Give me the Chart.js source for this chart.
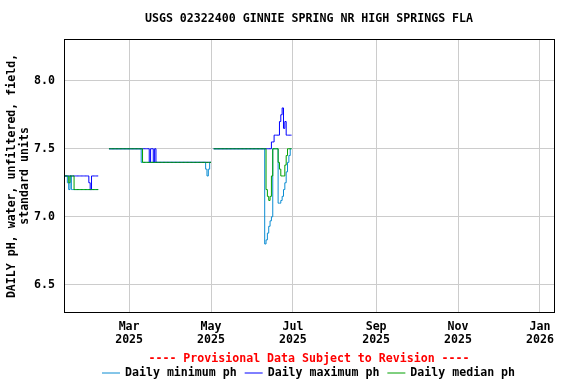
<!DOCTYPE html>
<html><head><meta charset="utf-8">
<script src="https://cdn.jsdelivr.net/npm/chart.js@4"></script>
<style>html,body{margin:0;padding:0;background:#fff;}canvas{display:block;}</style>
</head><body>
<canvas id="c" width="576" height="384"></canvas>
<script>
const titleText = 'USGS 02322400 GINNIE SPRING NR HIGH SPRINGS FLA';
const yTitle = ['DAILY pH, water, unfiltered, field,', 'standard units'];
const footerText = '---- Provisional Data Subject to Revision ----';
const seriesNames = ['Daily minimum ph', 'Daily maximum ph', 'Daily median ph'];
// x values are day numbers counted from 1 Jan 2025 (= 0)
const tickDays = [59, 120, 181, 243, 304, 365];
const tickLabels = [['Mar','2025'],['May','2025'],['Jul','2025'],['Sep','2025'],['Nov','2025'],['Jan','2026']];
const yTicks = [6.5, 7.0, 7.5, 8.0];
const segmentStarts = [11, 44, 122];

const minSeg1 = [7.3,7.3,7.25,7.2,7.3,7.2,7.2,7.2,7.2,7.2,
                 7.2,7.2,7.2,7.2,7.2,7.2,7.2,7.2,7.2,7.2,
                 7.2,7.2,7.2,7.2,7.2,7.2];
const maxSeg1 = [7.3,7.3,7.3,7.3,7.3,7.3,7.3,7.3,7.3,7.3,
                 7.3,7.3,7.3,7.3,7.3,7.3,7.3,7.3,7.25,7.2,
                 7.3,7.3,7.3,7.3,7.3,7.3];
const medSeg1 = [7.3,7.3,7.3,7.25,7.3,7.3,7.3,7.2,7.2,7.2,
                 7.2,7.2,7.2,7.2,7.2,7.2,7.2,7.2,7.2,7.2,
                 7.2,7.2,7.2,7.2,7.2,7.2];

const minSeg2 = [7.5,7.5,7.5,7.5,7.5,7.5,7.5,7.5,7.5,7.5,
                 7.5,7.5,7.5,7.5,7.5,7.5,7.5,7.5,7.5,7.5,
                 7.5,7.5,7.5,7.5,7.4,7.4,7.4,7.4,7.4,7.4,
                 7.4,7.4,7.4,7.4,7.4,7.4,7.4,7.4,7.4,7.4,
                 7.4,7.4,7.4,7.4,7.4,7.4,7.4,7.4,7.4,7.4,
                 7.4,7.4,7.4,7.4,7.4,7.4,7.4,7.4,7.4,7.4,
                 7.4,7.4,7.4,7.4,7.4,7.4,7.4,7.4,7.4,7.4,
                 7.4,7.4,7.35,7.3,7.35,7.4,7.4];
const maxSeg2 = [7.5,7.5,7.5,7.5,7.5,7.5,7.5,7.5,7.5,7.5,
                 7.5,7.5,7.5,7.5,7.5,7.5,7.5,7.5,7.5,7.5,
                 7.5,7.5,7.5,7.5,7.5,7.5,7.5,7.5,7.5,7.5,
                 7.4,7.5,7.5,7.4,7.5,7.4,7.4,7.4,7.4,7.4,
                 7.4,7.4,7.4,7.4,7.4,7.4,7.4,7.4,7.4,7.4,
                 7.4,7.4,7.4,7.4,7.4,7.4,7.4,7.4,7.4,7.4,
                 7.4,7.4,7.4,7.4,7.4,7.4,7.4,7.4,7.4,7.4,
                 7.4,7.4,7.4,7.4,7.4,7.4,7.4];
const medSeg2 = [7.5,7.5,7.5,7.5,7.5,7.5,7.5,7.5,7.5,7.5,
                 7.5,7.5,7.5,7.5,7.5,7.5,7.5,7.5,7.5,7.5,
                 7.5,7.5,7.5,7.5,7.5,7.4,7.4,7.4,7.4,7.4,
                 7.4,7.4,7.4,7.4,7.4,7.4,7.4,7.4,7.4,7.4,
                 7.4,7.4,7.4,7.4,7.4,7.4,7.4,7.4,7.4,7.4,
                 7.4,7.4,7.4,7.4,7.4,7.4,7.4,7.4,7.4,7.4,
                 7.4,7.4,7.4,7.4,7.4,7.4,7.4,7.4,7.4,7.4,
                 7.4,7.4,7.4,7.4,7.4,7.4,7.4];

const minSeg3 = [7.5,7.5,7.5,7.5,7.5,7.5,7.5,7.5,7.5,7.5,
                 7.5,7.5,7.5,7.5,7.5,7.5,7.5,7.5,7.5,7.5,
                 7.5,7.5,7.5,7.5,7.5,7.5,7.5,7.5,7.5,7.5,
                 7.5,7.5,7.5,7.5,7.5,7.5,7.5,7.5,6.8,6.83,
                 6.88,6.93,6.97,7.0,7.5,7.5,7.5,7.5,7.1,7.1,
                 7.12,7.15,7.2,7.25,7.33,7.4,7.45,7.5,7.5];
const maxSeg3 = [7.5,7.5,7.5,7.5,7.5,7.5,7.5,7.5,7.5,7.5,
                 7.5,7.5,7.5,7.5,7.5,7.5,7.5,7.5,7.5,7.5,
                 7.5,7.5,7.5,7.5,7.5,7.5,7.5,7.5,7.5,7.5,
                 7.5,7.5,7.5,7.5,7.5,7.5,7.5,7.5,7.5,7.5,
                 7.5,7.5,7.5,7.55,7.55,7.6,7.6,7.6,7.6,7.7,
                 7.75,7.8,7.65,7.7,7.6,7.6,7.6,7.6,7.6];
const medSeg3 = [7.5,7.5,7.5,7.5,7.5,7.5,7.5,7.5,7.5,7.5,
                 7.5,7.5,7.5,7.5,7.5,7.5,7.5,7.5,7.5,7.5,
                 7.5,7.5,7.5,7.5,7.5,7.5,7.5,7.5,7.5,7.5,
                 7.5,7.5,7.5,7.5,7.5,7.5,7.5,7.5,7.5,7.2,
                 7.15,7.12,7.15,7.3,7.5,7.5,7.5,7.5,7.4,7.35,
                 7.3,7.3,7.3,7.38,7.45,7.5,7.5,7.5,7.5];

function buildPoints(segs) {
  const pts = [];
  segs.forEach((vals, si) => {
    if (si > 0) pts.push({x: segmentStarts[si] - 1, y: null});
    vals.forEach((v, i) => pts.push({x: segmentStarts[si] + i, y: v}));
  });
  return pts;
}

const FONT = {family: "'DejaVu Sans Mono', monospace", size: 11.6, weight: 'bold', lineHeight: 1.12};
const FONTCSS = "bold 11.6px 'DejaVu Sans Mono', monospace";
Chart.defaults.color = '#000';

const decor = {
  id: 'decor',
  afterDatasetsDraw(chart) {
    const {ctx, chartArea: a} = chart;
    const top = Math.round(a.top) - 0.5;
    ctx.save();
    ctx.strokeStyle = '#000';
    ctx.lineWidth = 1;
    ctx.strokeRect(a.left + 0.5, top, a.right - a.left, a.bottom + 0.5 - top);
    ctx.restore();
  },
  afterDraw(chart) {
    const {ctx, chartArea: a} = chart;
    const cx = (a.left + a.right) / 2;
    ctx.save();
    ctx.font = FONTCSS;
    ctx.textBaseline = 'middle';
    ctx.textAlign = 'center';
    ctx.fillStyle = '#ff0000';
    ctx.fillText(footerText, cx, chart.height - 25.5);
    const ly = chart.height - 11.5;
    const lineW = 18, g1 = 5, g2 = 8;
    const dss = chart.data.datasets;
    const widths = dss.map(d => ctx.measureText(d.label).width);
    let total = 0;
    widths.forEach((w, i) => { total += lineW + g1 + w + (i > 0 ? g2 : 0); });
    let x = Math.round(cx - total / 2);
    ctx.textAlign = 'left';
    dss.forEach((ds, i) => {
      ctx.strokeStyle = ds.borderColor;
      ctx.lineWidth = 1;
      ctx.beginPath();
      ctx.moveTo(x, ly + 0.5);
      ctx.lineTo(x + lineW, ly + 0.5);
      ctx.stroke();
      x += lineW + g1;
      ctx.fillStyle = '#000';
      ctx.fillText(ds.label, x, ly);
      x += widths[i] + g2;
    });
    ctx.restore();
  }
};

new Chart(document.getElementById('c'), {
  type: 'line',
  data: {
    datasets: [
      {label: seriesNames[0], data: buildPoints([minSeg1, minSeg2, minSeg3]), borderColor: '#0a8cd2', order: 2},
      {label: seriesNames[1], data: buildPoints([maxSeg1, maxSeg2, maxSeg3]), borderColor: '#0000ff', order: 1},
      {label: seriesNames[2], data: buildPoints([medSeg1, medSeg2, medSeg3]), borderColor: '#00a000', order: 0}
    ].map(d => Object.assign(d, {borderWidth: 1, pointRadius: 0, stepped: true, fill: false, spanGaps: false}))
  },
  options: {
    responsive: false,
    animation: false,
    devicePixelRatio: 1,
    layout: {padding: {left: 0, right: 22, top: 0, bottom: 0}},
    plugins: {
      legend: {display: false},
      tooltip: {enabled: false},
      title: {display: true, text: titleText, font: {...FONT, lineHeight: 1.2}, color: '#000',
              fullSize: false, padding: {top: 12, bottom: 14}}
    },
    scales: {
      x: {
        type: 'linear', min: 10.5, max: 375.5,
        afterBuildTicks: s => { s.ticks = tickDays.map(v => ({value: v})); },
        afterFit: s => { s.height = 72; },
        ticks: {
          autoSkip: false, maxRotation: 0, minRotation: 0, padding: 8, font: FONT, color: '#000',
          callback: v => { const i = tickDays.indexOf(v); return i >= 0 ? tickLabels[i] : ''; }
        },
        grid: {color: '#cccccc', drawTicks: false},
        border: {display: false}
      },
      y: {
        type: 'linear', min: 6.3, max: 8.3,
        afterBuildTicks: s => { s.ticks = yTicks.map(v => ({value: v})); },
        afterFit: s => { s.width = 64; },
        ticks: {padding: 9, font: FONT, color: '#000', callback: v => Number(v).toFixed(1)},
        grid: {color: '#cccccc', drawTicks: false},
        border: {display: false},
        title: {display: true, text: yTitle, font: FONT, color: '#000', padding: {top: 5.5, bottom: 0}}
      }
    }
  },
  plugins: [decor]
});
</script>
</body></html>
